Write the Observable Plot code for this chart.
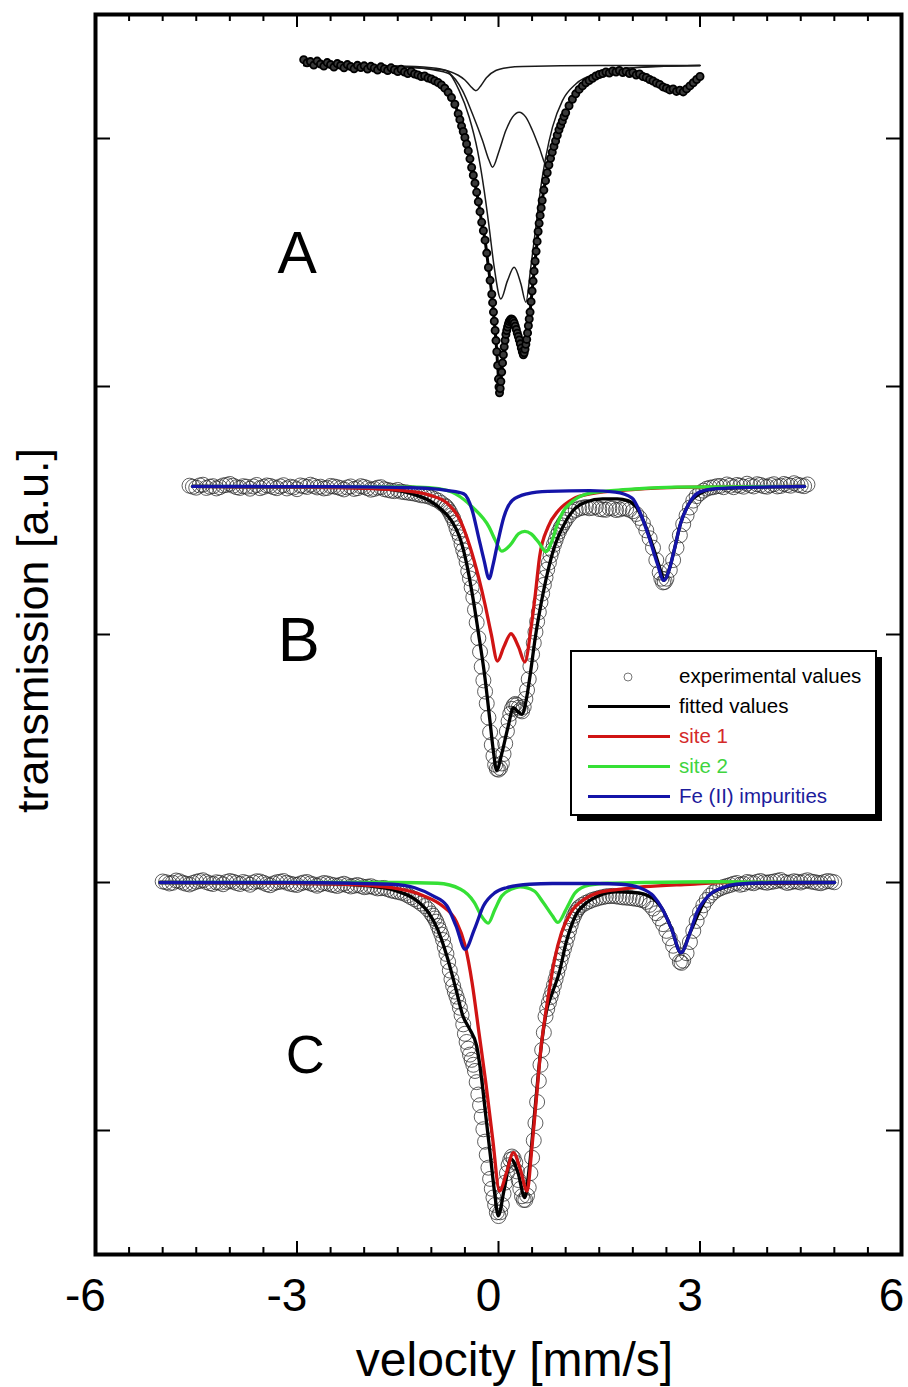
<!DOCTYPE html>
<html><head><meta charset="utf-8">
<script src="https://cdn.jsdelivr.net/npm/d3@7"></script>
<script src="https://cdn.jsdelivr.net/npm/@observablehq/plot@0.6"></script>
<style>
html,body{margin:0;padding:0;background:#fff;}
#wrap{position:relative;width:908px;height:1387px;font-family:'Liberation Sans',Arial,sans-serif;}
</style></head><body><div id="wrap"></div>
<script>
// ---------- axis ticks ----------
const xMajorTicks = [-6, -3, 0, 3, 6];
const xMinorTicks = [-5.5,-5,-4.5,-4,-3.5,-2.5,-2,-1.5,-1,-0.5,0.5,1,1.5,2,2.5,3.5,4,4.5,5,5.5];
const yTicks = [0, 1, 2, 3, 4];
const xLabel = "velocity [mm/s]";
const yLabel = "transmission [a.u.]";

// ---------- panel letters (velocity, transmission) ----------
const panelLetters = ["A", "B", "C"];
const panelLetterV = [-2.996, -2.973, -2.876];
const panelLetterT = [3.532, 1.974, 0.302];

// ---------- legend ----------
const legendLabels = ["experimental values", "fitted values", "site 1", "site 2", "Fe (II) impurities"];

// ---------- spectrum A (velocity, transmission) ----------
const aObs = [[-2.90,4.318],[-2.85,4.305],[-2.80,4.310],[-2.75,4.296],[-2.70,4.312],[-2.65,4.300],[-2.60,4.292],[-2.55,4.306],[-2.50,4.298],[-2.45,4.288],[-2.40,4.302],[-2.35,4.295],[-2.30,4.285],[-2.25,4.298],[-2.20,4.290],[-2.15,4.281],[-2.10,4.295],[-2.05,4.286],[-2.00,4.293],[-1.95,4.280],[-1.90,4.291],[-1.85,4.284],[-1.80,4.276],[-1.75,4.289],[-1.70,4.281],[-1.65,4.274],[-1.60,4.285],[-1.55,4.277],[-1.50,4.270],[-1.45,4.279],[-1.40,4.268],[-1.35,4.262],[-1.30,4.270],[-1.25,4.260],[-1.20,4.256],[-1.15,4.250],[-1.10,4.252],[-1.05,4.244],[-1.00,4.240],[-0.95,4.233],[-0.90,4.226],[-0.85,4.216],[-0.80,4.203],[-0.75,4.186],[-0.70,4.165],[-0.65,4.138],[-0.60,4.100],[-0.575,4.076],[-0.55,4.050],[-0.525,4.028],[-0.50,4.004],[-0.475,3.978],[-0.45,3.950],[-0.425,3.918],[-0.40,3.883],[-0.375,3.852],[-0.35,3.820],[-0.325,3.783],[-0.30,3.745],[-0.275,3.705],[-0.25,3.662],[-0.225,3.628],[-0.20,3.590],[-0.175,3.538],[-0.15,3.480],[-0.125,3.428],[-0.10,3.372],[-0.0875,3.338],[-0.075,3.300],[-0.0625,3.263],[-0.05,3.226],[-0.0375,3.185],[-0.025,3.140],[-0.0125,3.085],[0.00,3.030],[0.0075,2.998],[0.015,2.975],[0.025,2.992],[0.035,3.020],[0.0475,3.058],[0.06,3.095],[0.0725,3.128],[0.085,3.160],[0.0975,3.186],[0.11,3.210],[0.1225,3.226],[0.135,3.240],[0.1475,3.252],[0.16,3.262],[0.175,3.268],[0.19,3.272],[0.205,3.270],[0.22,3.264],[0.235,3.255],[0.25,3.243],[0.265,3.230],[0.28,3.215],[0.295,3.202],[0.31,3.188],[0.325,3.172],[0.34,3.155],[0.355,3.140],[0.37,3.128],[0.3825,3.136],[0.395,3.150],[0.4075,3.170],[0.42,3.190],[0.4325,3.216],[0.445,3.245],[0.4575,3.272],[0.47,3.300],[0.485,3.342],[0.50,3.385],[0.515,3.425],[0.53,3.465],[0.545,3.505],[0.56,3.545],[0.575,3.585],[0.59,3.625],[0.605,3.658],[0.62,3.690],[0.635,3.720],[0.65,3.750],[0.675,3.792],[0.70,3.830],[0.725,3.862],[0.75,3.893],[0.775,3.920],[0.80,3.945],[0.825,3.968],[0.85,3.990],[0.875,4.013],[0.90,4.035],[0.925,4.053],[0.95,4.070],[0.975,4.088],[1.00,4.104],[1.05,4.132],[1.10,4.158],[1.15,4.180],[1.20,4.198],[1.25,4.212],[1.30,4.225],[1.35,4.234],[1.40,4.243],[1.45,4.252],[1.50,4.258],[1.55,4.262],[1.60,4.268],[1.65,4.264],[1.70,4.272],[1.75,4.268],[1.80,4.274],[1.85,4.266],[1.90,4.270],[1.95,4.262],[2.00,4.266],[2.05,4.256],[2.10,4.260],[2.15,4.250],[2.20,4.246],[2.25,4.238],[2.30,4.232],[2.35,4.224],[2.40,4.218],[2.45,4.208],[2.50,4.203],[2.55,4.196],[2.60,4.200],[2.65,4.190],[2.70,4.195],[2.75,4.188],[2.80,4.200],[2.85,4.212],[2.90,4.225],[2.95,4.238],[3.00,4.250]];
const aSinglet = [[-2.9,4.294],[-1.5,4.292],[-1.0,4.285],[-0.75,4.272],[-0.6,4.255],[-0.5,4.236],[-0.42,4.212],[-0.337,4.193],[-0.26,4.214],[-0.18,4.245],[-0.04,4.274],[0.15,4.286],[0.357,4.290],[1.5,4.294],[3.0,4.294]];
const aDoubletOuter = [[-2.9,4.294],[-1.5,4.290],[-1.0,4.278],[-0.734,4.261],[-0.536,4.193],[-0.387,4.099],[-0.238,3.992],[-0.139,3.911],[-0.089,3.884],[0.010,3.951],[0.109,4.032],[0.208,4.086],[0.308,4.106],[0.407,4.086],[0.506,4.032],[0.605,3.965],[0.729,3.884],[0.804,3.938],[0.903,4.032],[1.052,4.140],[1.25,4.220],[1.498,4.261],[1.845,4.281],[2.341,4.290],[3.0,4.294]];
const aDoubletInner = [[-2.9,4.294],[-1.5,4.288],[-1.0,4.280],[-0.784,4.274],[-0.585,4.193],[-0.436,4.086],[-0.312,3.951],[-0.213,3.790],[-0.139,3.642],[-0.064,3.481],[0.035,3.353],[0.134,3.427],[0.233,3.481],[0.333,3.414],[0.407,3.340],[0.481,3.481],[0.556,3.642],[0.630,3.804],[0.704,3.925],[0.804,4.046],[0.952,4.153],[1.151,4.220],[1.449,4.261],[1.845,4.281],[2.341,4.290],[3.0,4.294]];

// ---------- spectrum B ----------
const bObs = [[-4.6,2.600],[-4.55,2.596],[-4.5,2.592],[-4.45,2.601],[-4.4,2.604],[-4.35,2.591],[-4.3,2.596],[-4.25,2.598],[-4.2,2.589],[-4.15,2.594],[-4.1,2.601],[-4.05,2.603],[-4.0,2.607],[-3.95,2.600],[-3.9,2.594],[-3.85,2.591],[-3.8,2.598],[-3.75,2.596],[-3.7,2.588],[-3.65,2.597],[-3.6,2.603],[-3.55,2.590],[-3.5,2.595],[-3.45,2.601],[-3.4,2.599],[-3.35,2.594],[-3.3,2.590],[-3.25,2.597],[-3.2,2.602],[-3.15,2.589],[-3.1,2.596],[-3.05,2.593],[-3.0,2.586],[-2.95,2.601],[-2.9,2.598],[-2.85,2.595],[-2.8,2.604],[-2.75,2.599],[-2.7,2.593],[-2.65,2.596],[-2.6,2.589],[-2.55,2.591],[-2.5,2.599],[-2.45,2.597],[-2.4,2.594],[-2.35,2.590],[-2.3,2.585],[-2.25,2.593],[-2.2,2.597],[-2.15,2.587],[-2.1,2.590],[-2.05,2.598],[-2.0,2.595],[-1.95,2.590],[-1.9,2.584],[-1.85,2.587],[-1.8,2.592],[-1.75,2.594],[-1.7,2.586],[-1.65,2.583],[-1.6,2.580],[-1.55,2.578],[-1.5,2.583],[-1.45,2.576],[-1.4,2.574],[-1.35,2.572],[-1.3,2.570],[-1.25,2.568],[-1.2,2.565],[-1.15,2.561],[-1.1,2.560],[-1.05,2.557],[-1.0,2.552],[-0.95,2.546],[-0.9,2.540],[-0.85,2.530],[-0.8,2.520],[-0.775,2.514],[-0.75,2.505],[-0.725,2.494],[-0.7,2.480],[-0.675,2.468],[-0.65,2.450],[-0.625,2.428],[-0.6,2.410],[-0.575,2.392],[-0.55,2.365],[-0.525,2.340],[-0.5,2.320],[-0.475,2.292],[-0.45,2.255],[-0.425,2.226],[-0.4,2.190],[-0.375,2.150],[-0.35,2.100],[-0.325,2.048],[-0.3,1.985],[-0.275,1.930],[-0.25,1.870],[-0.225,1.815],[-0.2,1.770],[-0.175,1.722],[-0.15,1.665],[-0.125,1.606],[-0.1,1.555],[-0.075,1.510],[-0.05,1.475],[-0.025,1.458],[0.0,1.455],[0.025,1.462],[0.05,1.480],[0.075,1.518],[0.1,1.560],[0.125,1.610],[0.15,1.650],[0.175,1.680],[0.2,1.700],[0.225,1.714],[0.25,1.720],[0.275,1.716],[0.3,1.705],[0.325,1.695],[0.35,1.690],[0.375,1.708],[0.4,1.740],[0.425,1.776],[0.45,1.820],[0.475,1.872],[0.5,1.920],[0.525,1.966],[0.55,2.010],[0.575,2.052],[0.6,2.090],[0.625,2.130],[0.65,2.165],[0.675,2.200],[0.7,2.230],[0.725,2.262],[0.75,2.290],[0.775,2.318],[0.8,2.340],[0.825,2.362],[0.85,2.380],[0.875,2.400],[0.9,2.415],[0.925,2.430],[0.95,2.440],[0.975,2.452],[1.0,2.462],[1.05,2.480],[1.1,2.495],[1.15,2.502],[1.2,2.508],[1.25,2.511],[1.3,2.514],[1.35,2.509],[1.4,2.511],[1.45,2.515],[1.5,2.506],[1.55,2.504],[1.6,2.503],[1.65,2.510],[1.7,2.508],[1.75,2.502],[1.8,2.504],[1.85,2.509],[1.9,2.507],[1.95,2.503],[2.0,2.497],[2.05,2.486],[2.1,2.470],[2.15,2.448],[2.2,2.420],[2.25,2.388],[2.3,2.350],[2.35,2.300],[2.4,2.250],[2.425,2.225],[2.45,2.210],[2.475,2.212],[2.5,2.225],[2.55,2.260],[2.6,2.300],[2.65,2.350],[2.7,2.400],[2.75,2.445],[2.8,2.480],[2.85,2.512],[2.9,2.540],[2.95,2.558],[3.0,2.570],[3.05,2.580],[3.1,2.588],[3.15,2.592],[3.2,2.594],[3.25,2.598],[3.3,2.599],[3.35,2.594],[3.4,2.605],[3.45,2.600],[3.5,2.594],[3.55,2.603],[3.6,2.600],[3.65,2.596],[3.7,2.608],[3.75,2.601],[3.8,2.597],[3.85,2.606],[3.9,2.603],[3.95,2.598],[4.0,2.596],[4.05,2.602],[4.1,2.606],[4.15,2.597],[4.2,2.599],[4.25,2.607],[4.3,2.603],[4.35,2.600],[4.4,2.610],[4.45,2.604],[4.5,2.601],[4.55,2.598],[4.6,2.605]];
const bFit = [[-4.556,2.597],[-2.5,2.594],[-1.769,2.588],[-1.142,2.554],[-0.892,2.514],[-0.704,2.460],[-0.579,2.393],[-0.485,2.299],[-0.391,2.164],[-0.297,2.003],[-0.203,1.828],[-0.128,1.653],[-0.078,1.533],[-0.027,1.452],[0.048,1.519],[0.142,1.627],[0.223,1.705],[0.286,1.690],[0.348,1.678],[0.411,1.734],[0.474,1.842],[0.549,1.990],[0.643,2.137],[0.737,2.258],[0.831,2.352],[0.956,2.433],[1.112,2.500],[1.300,2.534],[1.551,2.547],[1.770,2.547],[1.926,2.540],[2.052,2.514],[2.177,2.446],[2.302,2.352],[2.427,2.245],[2.459,2.218],[2.553,2.272],[2.615,2.339],[2.709,2.446],[2.835,2.527],[2.991,2.567],[3.242,2.588],[4.557,2.597]];
const bSite1 = [[-4.556,2.597],[-2.395,2.592],[-1.455,2.581],[-1.017,2.561],[-0.767,2.530],[-0.579,2.465],[-0.422,2.352],[-0.297,2.231],[-0.203,2.124],[-0.109,2.003],[-0.015,1.893],[0.079,1.950],[0.186,2.003],[0.298,1.950],[0.392,1.889],[0.486,2.030],[0.549,2.164],[0.611,2.312],[0.737,2.433],[0.893,2.500],[1.112,2.547],[1.363,2.567],[1.989,2.584],[2.929,2.594],[4.557,2.597]];
const bSite2 = [[-4.556,2.597],[-2.0,2.596],[-1.2,2.594],[-0.892,2.588],[-0.641,2.567],[-0.391,2.514],[-0.14,2.433],[-0.046,2.379],[0.048,2.336],[0.173,2.360],[0.298,2.406],[0.392,2.416],[0.486,2.406],[0.612,2.366],[0.705,2.334],[0.80,2.380],[0.87,2.440],[0.95,2.490],[1.05,2.525],[1.175,2.551],[1.363,2.570],[1.676,2.580],[1.989,2.586],[2.615,2.594],[4.557,2.597]];
const bFe2 = [[-4.556,2.597],[-2.5,2.596],[-1.5,2.593],[-1.0,2.588],[-0.75,2.580],[-0.516,2.567],[-0.391,2.500],[-0.297,2.393],[-0.215,2.299],[-0.140,2.225],[-0.078,2.285],[-0.015,2.366],[0.079,2.473],[0.204,2.540],[0.424,2.567],[0.737,2.577],[1.363,2.580],[1.739,2.574],[1.989,2.550],[2.115,2.487],[2.240,2.393],[2.365,2.285],[2.459,2.218],[2.553,2.272],[2.615,2.339],[2.709,2.446],[2.835,2.527],[2.991,2.574],[3.242,2.588],[3.868,2.594],[4.557,2.597]];

// ---------- spectrum C ----------
const cObs = [[-5.0,1.004],[-4.95,1.001],[-4.9,0.996],[-4.85,0.999],[-4.8,1.008],[-4.75,1.005],[-4.7,0.999],[-4.65,0.995],[-4.6,0.992],[-4.55,0.998],[-4.5,1.003],[-4.45,1.006],[-4.4,1.009],[-4.35,1.002],[-4.3,0.997],[-4.25,0.994],[-4.2,1.001],[-4.15,0.999],[-4.1,0.993],[-4.05,1.002],[-4.0,1.006],[-3.95,1.003],[-3.9,0.998],[-3.85,0.994],[-3.8,1.002],[-3.75,0.998],[-3.7,0.991],[-3.65,1.000],[-3.6,1.005],[-3.55,1.004],[-3.5,0.999],[-3.45,0.993],[-3.4,0.989],[-3.35,0.996],[-3.3,1.001],[-3.25,1.003],[-3.2,1.006],[-3.15,0.999],[-3.1,0.995],[-3.05,0.992],[-3.0,0.990],[-2.95,0.996],[-2.9,1.000],[-2.85,1.002],[-2.8,0.996],[-2.75,0.992],[-2.7,0.987],[-2.65,0.993],[-2.6,0.998],[-2.55,0.996],[-2.5,0.992],[-2.45,0.989],[-2.4,0.986],[-2.35,0.991],[-2.3,0.995],[-2.25,0.989],[-2.2,0.984],[-2.15,0.987],[-2.1,0.990],[-2.05,0.986],[-2.0,0.981],[-1.95,0.983],[-1.9,0.985],[-1.85,0.980],[-1.8,0.976],[-1.75,0.977],[-1.7,0.978],[-1.65,0.973],[-1.6,0.968],[-1.55,0.965],[-1.5,0.962],[-1.45,0.959],[-1.4,0.955],[-1.35,0.948],[-1.3,0.940],[-1.25,0.933],[-1.2,0.925],[-1.15,0.915],[-1.1,0.905],[-1.05,0.892],[-1.0,0.875],[-0.975,0.866],[-0.95,0.855],[-0.925,0.842],[-0.9,0.825],[-0.875,0.808],[-0.85,0.790],[-0.825,0.768],[-0.8,0.740],[-0.775,0.712],[-0.75,0.680],[-0.725,0.645],[-0.7,0.610],[-0.675,0.583],[-0.65,0.560],[-0.625,0.540],[-0.6,0.520],[-0.575,0.495],[-0.55,0.465],[-0.525,0.428],[-0.5,0.390],[-0.475,0.357],[-0.45,0.330],[-0.425,0.306],[-0.4,0.285],[-0.375,0.265],[-0.35,0.240],[-0.325,0.195],[-0.3,0.145],[-0.275,0.102],[-0.25,0.055],[-0.225,0.005],[-0.2,-0.045],[-0.175,-0.098],[-0.15,-0.150],[-0.125,-0.195],[-0.1,-0.235],[-0.075,-0.270],[-0.05,-0.300],[-0.025,-0.330],[0.0,-0.345],[0.025,-0.330],[0.05,-0.300],[0.075,-0.255],[0.1,-0.210],[0.125,-0.172],[0.15,-0.140],[0.175,-0.118],[0.2,-0.105],[0.225,-0.112],[0.25,-0.130],[0.275,-0.165],[0.3,-0.200],[0.325,-0.235],[0.35,-0.265],[0.375,-0.280],[0.4,-0.280],[0.425,-0.262],[0.45,-0.230],[0.475,-0.172],[0.5,-0.110],[0.525,-0.040],[0.55,0.030],[0.575,0.115],[0.6,0.200],[0.625,0.265],[0.65,0.325],[0.675,0.395],[0.7,0.460],[0.725,0.490],[0.75,0.515],[0.775,0.538],[0.8,0.560],[0.825,0.585],[0.85,0.610],[0.875,0.635],[0.9,0.660],[0.925,0.686],[0.95,0.710],[0.975,0.733],[1.0,0.755],[1.025,0.780],[1.05,0.805],[1.075,0.828],[1.1,0.850],[1.125,0.866],[1.15,0.880],[1.175,0.891],[1.2,0.900],[1.25,0.910],[1.3,0.918],[1.35,0.924],[1.4,0.930],[1.45,0.934],[1.5,0.938],[1.55,0.941],[1.6,0.944],[1.65,0.945],[1.7,0.946],[1.75,0.944],[1.8,0.942],[1.85,0.940],[1.9,0.939],[1.95,0.938],[2.0,0.936],[2.05,0.934],[2.1,0.932],[2.15,0.928],[2.2,0.922],[2.25,0.910],[2.3,0.895],[2.35,0.876],[2.4,0.855],[2.45,0.832],[2.5,0.805],[2.55,0.775],[2.6,0.745],[2.65,0.712],[2.7,0.680],[2.725,0.676],[2.75,0.685],[2.8,0.715],[2.85,0.760],[2.9,0.805],[2.95,0.845],[3.0,0.880],[3.05,0.908],[3.1,0.930],[3.15,0.947],[3.2,0.960],[3.25,0.970],[3.3,0.976],[3.35,0.982],[3.4,0.986],[3.45,0.990],[3.5,0.995],[3.55,0.998],[3.6,0.991],[3.65,0.994],[3.7,1.002],[3.75,1.000],[3.8,0.997],[3.85,1.003],[3.9,1.006],[3.95,1.001],[4.0,0.999],[4.05,1.002],[4.1,1.004],[4.15,1.007],[4.2,1.010],[4.25,1.003],[4.3,0.998],[4.35,1.001],[4.4,1.005],[4.45,1.003],[4.5,1.000],[4.55,1.005],[4.6,1.009],[4.65,1.004],[4.7,1.002],[4.75,0.999],[4.8,0.997],[4.85,1.002],[4.9,1.006],[4.95,1.004],[5.0,1.001]];
const cFit = [[-5.040,1.000],[-2.614,0.996],[-1.931,0.986],[-1.521,0.966],[-1.248,0.933],[-1.043,0.879],[-0.906,0.811],[-0.769,0.704],[-0.633,0.569],[-0.530,0.462],[-0.428,0.408],[-0.325,0.341],[-0.257,0.220],[-0.189,0.059],[-0.120,-0.103],[-0.052,-0.264],[-0.004,-0.344],[0.085,-0.237],[0.187,-0.116],[0.290,-0.170],[0.392,-0.271],[0.461,-0.143],[0.543,0.086],[0.631,0.328],[0.720,0.489],[0.802,0.556],[0.905,0.637],[1.007,0.758],[1.144,0.865],[1.315,0.919],[1.486,0.946],[1.759,0.962],[2.032,0.959],[2.237,0.946],[2.442,0.892],[2.579,0.811],[2.715,0.717],[2.852,0.798],[3.125,0.946],[3.399,0.983],[3.672,0.996],[5.004,1.000]];
const cSite1 = [[-5.040,1.000],[-3.297,0.997],[-2.272,0.993],[-1.589,0.979],[-1.111,0.946],[-0.838,0.906],[-0.633,0.845],[-0.496,0.744],[-0.393,0.596],[-0.291,0.395],[-0.189,0.193],[-0.086,-0.035],[0.016,-0.244],[0.119,-0.170],[0.221,-0.089],[0.324,-0.156],[0.426,-0.244],[0.495,-0.076],[0.563,0.126],[0.631,0.328],[0.734,0.529],[0.836,0.691],[0.939,0.798],[1.076,0.879],[1.281,0.933],[1.486,0.959],[1.827,0.973],[2.169,0.983],[2.852,0.993],[3.399,1.000],[5.004,1.000]];
const cSite2 = [[-5.040,1.000],[-1.521,1.000],[-0.906,0.997],[-0.564,0.973],[-0.359,0.919],[-0.257,0.866],[-0.154,0.836],[-0.052,0.892],[0.050,0.946],[0.256,0.979],[0.324,0.982],[0.529,0.966],[0.666,0.919],[0.802,0.866],[0.884,0.839],[1.007,0.892],[1.144,0.959],[1.349,0.989],[1.622,0.997],[2.169,1.000],[3.194,1.003],[5.004,1.000]];
const cFe2 = [[-5.040,1.000],[-3.0,1.000],[-1.589,0.993],[-1.248,0.979],[-0.974,0.946],[-0.769,0.906],[-0.633,0.825],[-0.496,0.731],[-0.359,0.811],[-0.223,0.906],[-0.052,0.959],[0.119,0.979],[0.461,0.993],[0.802,0.996],[1.486,0.996],[1.827,0.993],[2.100,0.979],[2.305,0.946],[2.442,0.892],[2.579,0.811],[2.715,0.717],[2.852,0.798],[2.954,0.879],[3.125,0.946],[3.330,0.979],[3.535,0.993],[4.219,1.000],[5.004,1.000]];

// ---------- styling ----------
const FONT = "'Liberation Sans', Arial, Helvetica, sans-serif";
const RED = "#d01414", GREEN = "#35e035", BLUE = "#1414a8", BLACK = "#000000";
const W = 908, H = 1387, MT = 14, MR = 7, MB = 133, ML = 95;
const PW = W - ML - MR, PH = H - MT - MB;

const fitLine = (data, color, w) => Plot.line(data, {x: d => d[0], y: d => d[1], stroke: color, strokeWidth: w, curve: "monotone-x", strokeLinejoin: "round", strokeLinecap: "round"});
const obsDots = (data) => Plot.dot(data, {x: d => d[0], y: d => d[1], r: 7.5, stroke: "#2a2a2a", strokeWidth: 0.75, fill: "none"});

const chart = Plot.plot({
  width: W, height: H,
  marginTop: MT, marginRight: MR, marginBottom: MB, marginLeft: ML,
  x: {domain: [-6, 6], axis: null},
  y: {domain: [-0.5, 4.5], axis: null},
  style: {fontFamily: FONT, background: "#fff", color: "#000", overflow: "visible"},
  marks: [
    // spectrum A (scanned-style, black)
    fitLine(aSinglet, "#1a1a1a", 1.5),
    fitLine(aDoubletOuter, "#1a1a1a", 1.5),
    fitLine(aDoubletInner, "#1a1a1a", 1.5),
    fitLine(aObs, "#000", 3),
    Plot.dot(aObs, {x: d => d[0], y: d => d[1], r: 3.6, fill: "#3a3a3a", stroke: "#000", strokeWidth: 1.8}),
    // spectrum B
    obsDots(bObs),
    fitLine(bFit, BLACK, 3.3),
    fitLine(bSite1, RED, 3.3),
    fitLine(bSite2, GREEN, 3.3),
    fitLine(bFe2, BLUE, 3.3),
    // spectrum C
    obsDots(cObs),
    fitLine(cFit, BLACK, 3.3),
    fitLine(cSite1, RED, 3.3),
    fitLine(cSite2, GREEN, 3.3),
    fitLine(cFe2, BLUE, 3.3),
    // panel letters
    Plot.text(panelLetters, {x: (d, i) => panelLetterV[i], y: (d, i) => panelLetterT[i], text: d => d,
      fontSize: (d, i) => [59, 63, 54][i], textAnchor: "middle", lineAnchor: "middle", fill: "#000"}),
    // inward ticks
    Plot.tickX(xMinorTicks, {x: d => d, insetTop: PH - 7, stroke: "#000", strokeWidth: 2}),
    Plot.tickX(xMajorTicks, {x: d => d, insetTop: PH - 13, stroke: "#000", strokeWidth: 2}),
    Plot.tickX(xMinorTicks, {x: d => d, insetBottom: PH - 7, stroke: "#000", strokeWidth: 2}),
    Plot.tickX(xMajorTicks, {x: d => d, insetBottom: PH - 13, stroke: "#000", strokeWidth: 2}),
    Plot.tickY(yTicks, {y: d => d, insetRight: PW - 15, stroke: "#000", strokeWidth: 2}),
    Plot.tickY(yTicks, {y: d => d, insetLeft: PW - 15, stroke: "#000", strokeWidth: 2}),
    Plot.frame({stroke: "#000", strokeWidth: 4}),
    // tick labels
    Plot.text(xMajorTicks, {x: d => d, frameAnchor: "bottom", text: d => String(d), dy: 24, dx: -10,
      lineAnchor: "top", textAnchor: "middle", fontSize: 46, fill: "#000"}),
    // axis titles
    Plot.text([xLabel], {frameAnchor: "bottom", text: d => d, dy: 121, dx: 16, lineAnchor: "bottom",
      textAnchor: "middle", fontSize: 48, fill: "#000"}),
    Plot.text([yLabel], {frameAnchor: "left", text: d => d, rotate: -90, dx: -48, dy: -4, lineAnchor: "bottom",
      textAnchor: "middle", fontSize: 45, fill: "#000"})
  ]
});

const wrap = document.getElementById("wrap");
wrap.appendChild(chart);

// ---------- legend overlay ----------
const legendColors = ["#777", BLACK, RED, GREEN, BLUE];
const legendTextColors = ["#000", "#000", "#d42a2a", "#3fd43f", "#1c1c9c"];
const lg = d3.select(wrap).append("svg")
  .attr("width", 320).attr("height", 180)
  .style("position", "absolute").style("left", "568px").style("top", "648px")
  .style("font-family", FONT);
lg.append("rect").attr("x", 9).attr("y", 9).attr("width", 305).attr("height", 164).attr("fill", "#000");
lg.append("rect").attr("x", 3).attr("y", 3).attr("width", 305).attr("height", 164)
  .attr("fill", "#fff").attr("stroke", "#000").attr("stroke-width", 2);
const rows = lg.selectAll("g.row").data(legendLabels).join("g")
  .attr("transform", (d, i) => `translate(0, ${35 + 30 * i})`);
rows.each(function(d, i) {
  const g = d3.select(this);
  if (i === 0) {
    g.append("circle").attr("cx", 60).attr("cy", -6).attr("r", 4)
      .attr("fill", "none").attr("stroke", legendColors[i]).attr("stroke-width", 1);
  } else {
    g.append("line").attr("x1", 20).attr("x2", 102).attr("y1", -6.5).attr("y2", -6.5)
      .attr("stroke", legendColors[i]).attr("stroke-width", 3.2);
  }
  g.append("text").attr("x", 111).attr("y", 0).attr("font-size", 20.5)
    .attr("fill", legendTextColors[i]).text(d);
});
</script></body></html>
